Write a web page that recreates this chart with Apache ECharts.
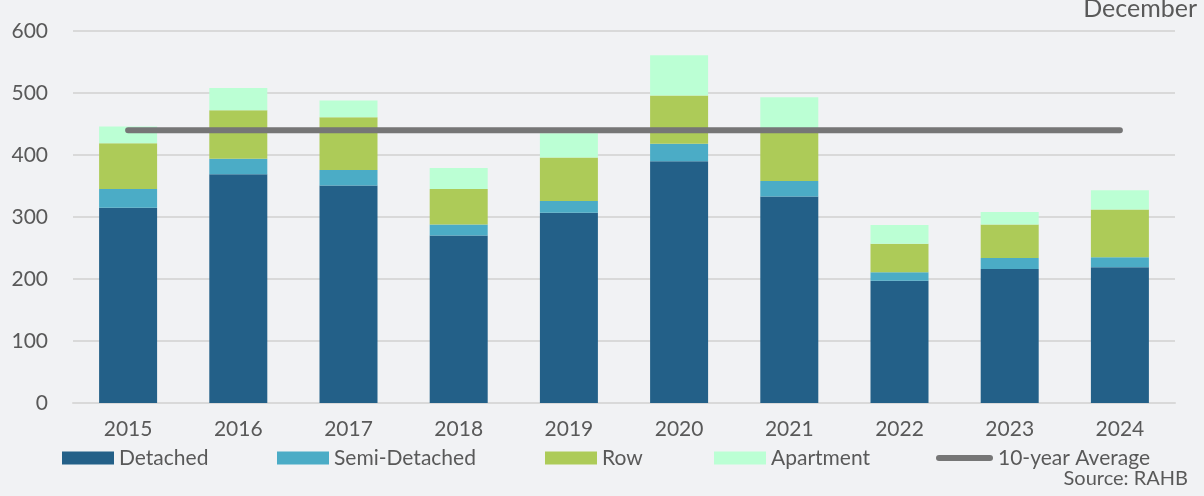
<!DOCTYPE html>
<html>
<head>
<meta charset="utf-8">
<script src="https://cdn.jsdelivr.net/npm/echarts@6/dist/echarts.min.js"></script>
<style>
    html, body { margin: 0; padding: 0; background: #f1f2f4; }
    #chart { width: 1204px; height: 496px; }
</style>
</head>
<body>
<div id="chart"></div>
<script>
/* data */
var years = ['2015', '2016', '2017', '2018', '2019', '2020', '2021', '2022', '2023', '2024'];
var detached = [315, 369, 351, 270, 307, 390, 333, 197, 216, 219];
var semiDetached = [30, 25, 25, 18, 19, 28, 25, 14, 18, 16];
var row = [74, 78, 85, 57, 70, 78, 84, 46, 54, 77];
var apartment = [27, 36, 27, 34, 39, 65, 51, 30, 20, 31];
var tenYearAverage = [440, 440, 440, 440, 440, 440, 440, 440, 440, 440];
var yTicks = [0, 100, 200, 300, 400, 500, 600];

var font = 'Lato';
var textColor = '#595959';

var dom = document.getElementById('chart');
var myChart = echarts.init(dom);

var barSeries = function (name, data, color) {
    return {
        name: name,
        type: 'bar',
        stack: 'total',
        barWidth: 58,
        data: data,
        itemStyle: { color: color },
        emphasis: { disabled: true }
    };
};

var legendItem = function (name, left, icon, w, h) {
    return {
        data: [name],
        left: left,
        top: 442,
        itemWidth: w || 52,
        itemHeight: h || 13,
        itemGap: 0,
        icon: icon || 'rect',
        textStyle: { fontFamily: font, fontSize: 21, color: textColor, padding: [0, 0, 0, 0], lineHeight: 22 },
        selectedMode: false
    };
};

var option = {
    backgroundColor: '#f1f2f4',
    animation: false,
    textStyle: { fontFamily: font },
    grid: { left: 73, right: 29, top: 31, bottom: 93 },
    legend: [
        legendItem('Detached', 57),
        legendItem('Semi-Detached', 272),
        legendItem('Row', 540),
        legendItem('Apartment', 709),
        legendItem('10-year Average', 931, 'path://M3,0 L54,0 A3,3 0 0 1 54,6 L3,6 A3,3 0 0 1 3,0 Z', 57, 6)
    ],
    xAxis: {
        type: 'category',
        data: years,
        axisLine: { lineStyle: { color: '#d9d9d9', width: 2 } },
        axisTick: { show: false },
        axisLabel: { fontFamily: font, fontSize: 21, color: textColor, margin: 16 }
    },
    yAxis: {
        type: 'value',
        min: yTicks[0],
        max: yTicks[yTicks.length - 1],
        interval: 100,
        axisLine: { show: false },
        axisTick: { show: false },
        splitLine: { lineStyle: { color: '#d9d9d9', width: 2 } },
        axisLabel: { fontFamily: font, fontSize: 21, color: textColor, margin: 25 }
    },
    graphic: [
        {
            type: 'text',
            right: 7,
            top: -4,
            style: { text: 'December', fontFamily: font, fontSize: 25, fill: textColor }
        },
        {
            type: 'text',
            right: 16,
            top: 469,
            style: { text: 'Source: RAHB', fontFamily: font, fontSize: 20, fill: textColor }
        }
    ],
    series: [
        barSeries('Detached', detached, '#236088'),
        barSeries('Semi-Detached', semiDetached, '#4bacc6'),
        barSeries('Row', row, '#adcb58'),
        barSeries('Apartment', apartment, '#bbffd4'),
        {
            name: '10-year Average',
            type: 'line',
            data: tenYearAverage,
            symbol: 'none',
            z: 5,
            itemStyle: { color: '#767676' },
            lineStyle: { color: '#767676', width: 6, cap: 'round' },
            emphasis: { disabled: true }
        }
    ]
};
myChart.setOption(option);
</script>
</body>
</html>
